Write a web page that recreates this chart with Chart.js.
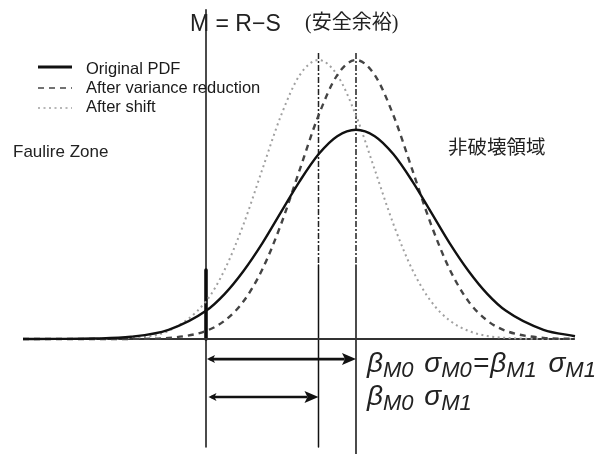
<!DOCTYPE html>
<html>
<head>
<meta charset="utf-8">
<script src="https://cdn.jsdelivr.net/npm/chart.js@4.4.1/dist/chart.umd.min.js"></script>
<style>
  html, body { margin: 0; padding: 0; background: #fff; }
  #wrap { width: 598px; height: 454px; }
</style>
</head>
<body>
<div id="wrap"><canvas id="pdfChart" width="598" height="454"></canvas></div>
<script>
// margin M in units of sigma0 (M = 0 is the failure limit)
const xs = [-2.44, -2, -1.5, -1, -0.5, 0, 0.25, 0.5, 0.75, 1, 1.25, 1.5, 1.75, 2, 2.25, 2.5, 2.75, 3, 3.25, 3.5, 3.75, 4, 4.5, 4.92];

const originalPdf = [0, 0.0003, 0.0016, 0.008, 0.033, 0.101, 0.162, 0.244, 0.343, 0.455, 0.566, 0.662, 0.727, 0.75, 0.727, 0.662, 0.566, 0.455, 0.343, 0.244, 0.162, 0.101, 0.033, 0.010];
const afterVariance = [0, 0, 0, 0.0003, 0.004, 0.029, 0.066, 0.135, 0.249, 0.411, 0.607, 0.801, 0.946, 1, 0.946, 0.801, 0.607, 0.411, 0.249, 0.135, 0.066, 0.029, 0.004, 0.0005];
const afterShift = [0, 0, 0.0003, 0.0039, 0.029, 0.135, 0.249, 0.411, 0.607, 0.801, 0.946, 1, 0.946, 0.801, 0.607, 0.411, 0.249, 0.135, 0.066, 0.029, 0.011, 0.0039, 0.0003, 0];

const legendLabels = ['Original PDF', 'After variance reduction', 'After shift'];

// reference marks: M = 0, shifted mean, original mean
const markX = [0, 1.5, 2];
// arrows below the axis: beta_M0 sigma_M0 and beta_M0 sigma_M1
const arrowFrom = [0, 0.02];
const arrowTo = [2, 1.5];
const arrowY = [-0.072, -0.208];

const pts = (arr) => xs.map((x, i) => ({ x: x, y: arr[i] }));
const seg = (x1, y1, x2, y2) => [{ x: x1, y: y1 }, { x: x2, y: y2 }];

const curveBase = { pointRadius: 0, fill: false, cubicInterpolationMode: 'monotone', borderCapStyle: 'butt' };
const plainLine = { pointRadius: 0, fill: false, tension: 0, borderCapStyle: 'butt' };

const datasets = [
    Object.assign({ data: pts(originalPdf), borderColor: '#111', borderWidth: 2.4 }, curveBase),
    Object.assign({ data: pts(afterVariance), borderColor: '#444', borderWidth: 2.4, borderDash: [6, 5] }, curveBase),
    Object.assign({ data: pts(afterShift), borderColor: '#a0a0a0', borderWidth: 2, borderDash: [2, 3.5] }, curveBase),
    // axis
    Object.assign({ data: seg(xs[0], 0, xs[xs.length - 1], 0), borderColor: '#333', borderWidth: 2 }, plainLine),
    // M = 0 line
    Object.assign({ data: seg(markX[0], 1.18, markX[0], -0.387), borderColor: '#111', borderWidth: 1.5 }, plainLine),
    Object.assign({ data: seg(markX[0], 0.247, markX[0], 0), borderColor: '#000', borderWidth: 3.5 }, plainLine),
    // mean lines, dash-dot above, solid below
    Object.assign({ data: seg(markX[1], 1.025, markX[1], 0.265), borderColor: '#222', borderWidth: 1.5, borderDash: [6, 2, 2, 2] }, plainLine),
    Object.assign({ data: seg(markX[2], 1.025, markX[2], 0.265), borderColor: '#222', borderWidth: 1.5, borderDash: [6, 2, 2, 2] }, plainLine),
    Object.assign({ data: seg(markX[1], 0.265, markX[1], -0.387), borderColor: '#111', borderWidth: 1.5 }, plainLine),
    Object.assign({ data: seg(markX[2], 0.265, markX[2], -0.42), borderColor: '#111', borderWidth: 1.5 }, plainLine),
    // arrows
    Object.assign({ data: seg(arrowFrom[0] + 0.05, arrowY[0], arrowTo[0] - 0.15, arrowY[0]), borderColor: '#111', borderWidth: 2.6 }, plainLine),
    Object.assign({ data: seg(arrowFrom[1] + 0.05, arrowY[1], arrowTo[1] - 0.15, arrowY[1]), borderColor: '#111', borderWidth: 2.6 }, plainLine)
];

const drawExtras = {
    id: 'drawExtras',
    afterDatasetsDraw(chart) {
        const ctx = chart.ctx;
        const xS = chart.scales.x;
        const yS = chart.scales.y;
        ctx.save();

        // arrow heads
        ctx.fillStyle = '#111';
        arrowY.forEach((yv, i) => {
            const y = yS.getPixelForValue(yv);
            const x1 = xS.getPixelForValue(arrowFrom[i]);
            const x2 = xS.getPixelForValue(arrowTo[i]);
            ctx.beginPath();
            ctx.moveTo(x2, y);
            ctx.lineTo(x2 - 14, y - 6);
            ctx.lineTo(x2 - 11, y);
            ctx.lineTo(x2 - 14, y + 6);
            ctx.closePath();
            ctx.fill();
            ctx.beginPath();
            ctx.moveTo(x1 + 1, y);
            ctx.lineTo(x1 + 9, y - 4);
            ctx.lineTo(x1 + 7, y);
            ctx.lineTo(x1 + 9, y + 4);
            ctx.closePath();
            ctx.fill();
        });

        // legend
        const lx = 38, lw = 34;
        const rows = [67, 88, 108];
        rows.forEach((ry, i) => {
            const ds = chart.data.datasets[i];
            ctx.beginPath();
            ctx.strokeStyle = ds.borderColor;
            ctx.lineWidth = i === 0 ? 3 : 1.6;
            ctx.setLineDash(ds.borderDash || []);
            ctx.moveTo(lx, ry);
            ctx.lineTo(lx + lw, ry);
            ctx.stroke();
        });
        ctx.setLineDash([]);
        ctx.fillStyle = '#1a1a1a';
        ctx.font = '16.5px "Liberation Sans", Arial, sans-serif';
        ctx.textBaseline = 'alphabetic';
        ctx.textAlign = 'left';
        ctx.fillText(legendLabels[0], 86, 74);
        ctx.fillText(legendLabels[1], 86, 93);
        ctx.fillText(legendLabels[2], 86, 112);

        // titles and zone labels
        ctx.fillStyle = '#222';
        ctx.font = '23px "Liberation Sans", Arial, sans-serif';
        ctx.fillText('M = R\u2212S', 190, 31);
        ctx.font = '20px "Liberation Serif", "Noto Sans CJK JP", serif';
        ctx.fillText('(安全余裕)', 305, 29);
        ctx.font = '17px "Liberation Sans", Arial, sans-serif';
        ctx.fillText('Faulire Zone', 13, 157);
        ctx.font = '19.5px "Noto Sans CJK JP", sans-serif';
        ctx.textBaseline = 'middle';
        ctx.fillText('非破壊領域', 448, 147);

        // formula text: [text, subscript?, extra gap before]
        ctx.textBaseline = 'alphabetic';
        const mainF = 'italic 28px "Liberation Sans", Arial, sans-serif';
        const subF = 'italic 22px "Liberation Sans", Arial, sans-serif';
        const writeRow = (parts, x, y) => {
            parts.forEach(p => {
                x += p[2] || 0;
                ctx.font = p[1] ? subF : mainF;
                ctx.fillText(p[0], x, p[1] ? y + 5 : y);
                x += ctx.measureText(p[0]).width;
            });
        };
        writeRow([['\u03b2', 0], ['M0', 1], [' \u03c3', 0, 3], ['M0', 1], ['=', 0, 1], ['\u03b2', 0, 1], ['M1', 1], [' \u03c3', 0, 4], ['M1', 1]], 367, 372);
        writeRow([['\u03b2', 0], ['M0', 1], [' \u03c3', 0, 3], ['M1', 1]], 367, 405);

        ctx.restore();
    }
};

new Chart(document.getElementById('pdfChart').getContext('2d'), {
    type: 'line',
    data: { datasets: datasets },
    options: {
        responsive: false,
        devicePixelRatio: 1,
        animation: false,
        layout: { padding: 0 },
        scales: {
            x: { type: 'linear', min: -2.7467, max: 5.2267, display: false },
            y: { type: 'linear', min: -0.4122, max: 1.2151, display: false }
        },
        plugins: {
            legend: { display: false },
            tooltip: { enabled: false }
        },
        elements: { line: { borderJoinStyle: 'round' } }
    },
    plugins: [drawExtras]
});
</script>
</body>
</html>
